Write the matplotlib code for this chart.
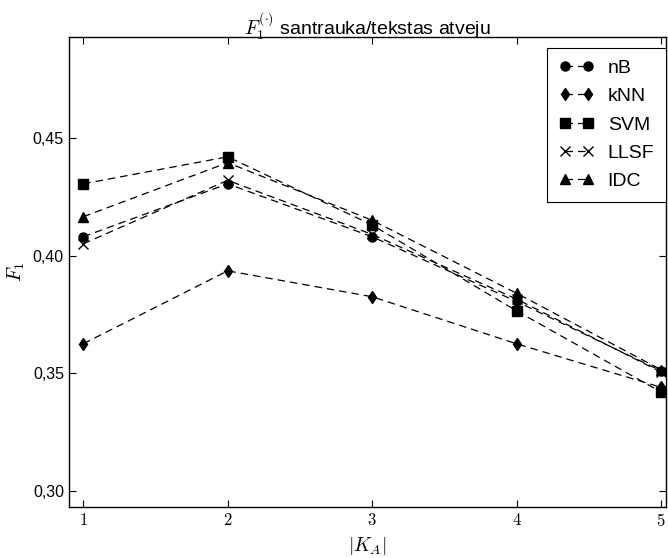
import matplotlib.pyplot as plt
import numpy as np

plt.rcParams['font.family'] = ['Liberation Sans', 'DejaVu Sans']
plt.rcParams['mathtext.fontset'] = 'cm'

# |K_A| values
ka = [1, 2, 3, 4, 5]

# F1 per method
f1_nb = [0.408, 0.4305, 0.408, 0.3805, 0.351]
f1_knn = [0.3625, 0.3935, 0.3825, 0.3625, 0.344]
f1_svm = [0.4305, 0.442, 0.413, 0.3765, 0.342]
f1_llsf = [0.405, 0.432, 0.409, 0.3815, 0.3505]
f1_idc = [0.4165, 0.4395, 0.415, 0.384, 0.3515]

methods = ['nB', 'kNN', 'SVM', 'LLSF', 'IDC']
series = [f1_nb, f1_knn, f1_svm, f1_llsf, f1_idc]
markers = ['o', 'd', 's', 'x', '^']

yticks = [0.30, 0.35, 0.40, 0.45]
ytick_labels = ['0,30', '0,35', '0,40', '0,45']

fig = plt.figure(figsize=(6.68, 5.58), dpi=100)
ax = fig.add_axes([0.103, 0.091, 0.894, 0.843])

for name, vals, mk in zip(methods, series, markers):
    ax.plot(ka, vals, linestyle=(0, (6, 4)), color='black', linewidth=0.9,
            marker=mk, markersize=6.5,
            markerfacecolor='black', markeredgecolor='black',
            markeredgewidth=1.0, label=name)

ax.set_xlim(0.9, 5.035)
ax.set_ylim(0.293, 0.493)
ax.set_xticks(ka)
ax.set_xticklabels(['$%d$' % k for k in ka], fontsize=12)
ax.set_yticks(yticks)
ax.set_yticklabels(ytick_labels, fontsize=11.5)
ax.tick_params(direction='in', top=True, right=True, length=5, width=0.8)
for s in ax.spines.values():
    s.set_linewidth(1.0)

ax.set_xlabel('$|K_A|$', fontsize=14, labelpad=4)
ax.set_ylabel('$F_1$', fontsize=14, labelpad=4)
ax.set_title(r'$F_1^{(\cdot)}$ santrauka/tekstas atveju', fontsize=14, pad=1)

leg = ax.legend(loc='upper right', bbox_to_anchor=(1.0, 0.977), numpoints=2,
                fontsize=14, fancybox=False, edgecolor='black', framealpha=1,
                handlelength=1.8, handletextpad=0.7, borderpad=0.6,
                labelspacing=0.55, borderaxespad=0.0)
leg.get_frame().set_linewidth(0.8)

fig.savefig('out.png', dpi=100)
